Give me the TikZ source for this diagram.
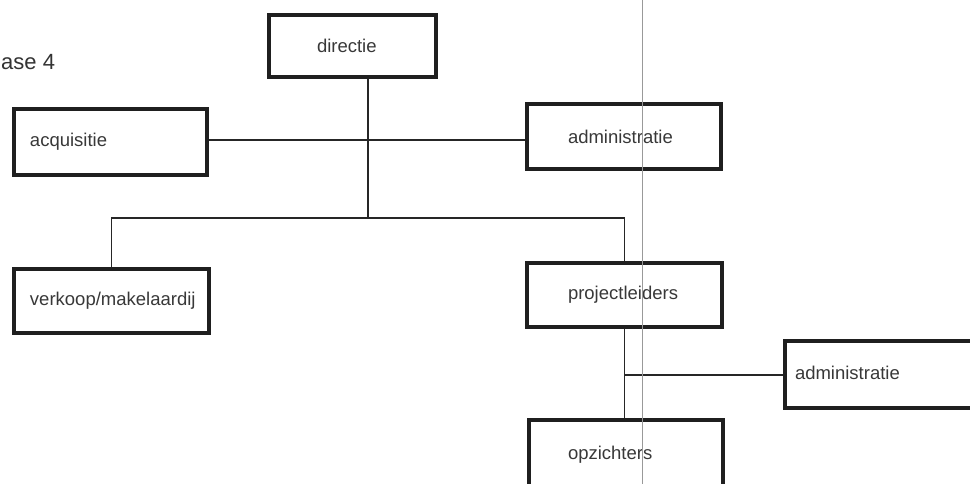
\documentclass[tikz,border=0pt]{standalone}
\usepackage{fontspec}
\setmainfont{Liberation Sans}
\begin{document}
\begin{tikzpicture}[x=1pt,y=-1pt,
  box/.style={draw=black!88, line width=3.6pt, align=left, text=black!78,
    font=\fontsize{18.5pt}{21pt}\selectfont, inner ysep=0pt},
  conn/.style={draw=black!85, line width=1.4pt},
  fold/.style={draw=black!40, line width=0.9pt}]
\useasboundingbox (0,0) rectangle (970,484);
\clip (0,0) rectangle (970,484);
\node[anchor=west, text=black!80, font=\fontsize{22pt}{26pt}\selectfont, inner xsep=0pt] (title) at (1,62) {ase 4};
\node[box, minimum height=62pt, inner xsep=48pt, text width=71pt] (dir) at (352.5,46) {directie};
\node[box, minimum height=66pt, inner xsep=16pt, text width=161pt] (acq) at (110.5,142) {acquisitie};
\node[box, minimum height=65pt, inner xsep=41pt, text width=112pt] (adm1) at (624,136.5) {administratie};
\node[box, minimum height=64pt, inner xsep=16pt, text width=163pt] (verk) at (111.5,301) {verkoop/makelaardij};
\node[box, minimum height=64pt, inner xsep=41pt, text width=113pt] (proj) at (624.5,295) {projectleiders};
\node[box, minimum height=67pt, inner xsep=10pt, text width=216pt] (adm2) at (903,374.5) {\raisebox{4pt}{administratie}};
\node[box, minimum height=70pt, inner xsep=39pt, text width=116pt] (opz) at (626,455) {opzichters};
\coordinate (j1) at (368,218);
\coordinate (j2) at (625,375);
\coordinate (f1) at (642,0);
\coordinate (f2) at (642,484);
\draw[conn] ([yshift=2pt]acq.east) -- ([yshift=2pt]adm1.west |- acq.east);
\draw[conn] (dir.south -| j1) -- (j1);
\draw[conn] (verk.north) -- (verk.north |- j1) -- (proj.north |- j1) -- (proj.north);
\draw[conn] (proj.south) -- (proj.south |- opz.north);
\draw[conn] (j2) -- (adm2.west |- j2);
\draw[fold] (f1) -- (f2);
\end{tikzpicture}
\end{document}
